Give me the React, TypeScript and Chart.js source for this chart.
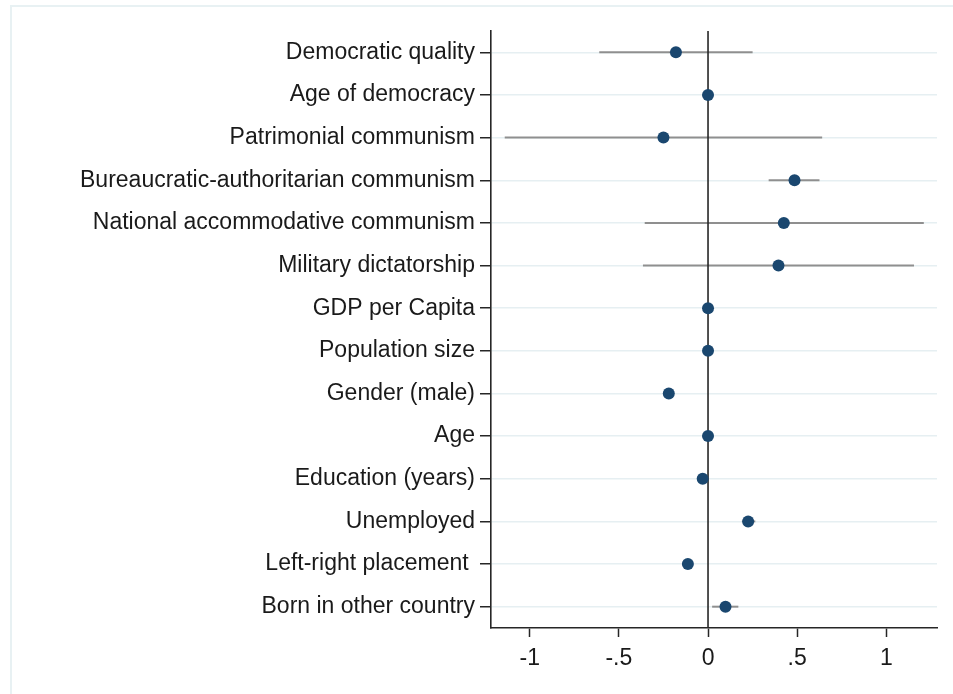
import React, { useEffect, useRef } from "react";
import { Chart, registerables } from "chart.js";

Chart.register(...registerables);

// Regressors, top to bottom
const labels: string[] = [
  "Democratic quality",
  "Age of democracy",
  "Patrimonial communism",
  "Bureaucratic-authoritarian communism",
  "National accommodative communism",
  "Military dictatorship",
  "GDP per Capita",
  "Population size",
  "Gender (male)",
  "Age",
  "Education (years)",
  "Unemployed",
  "Left-right placement ",
  "Born in other country",
];

// Point estimates
const coef: number[] = [
  -0.18, 0.0, -0.25, 0.485, 0.425, 0.395, 0.0, 0.0, -0.22, 0.0, -0.03, 0.225,
  -0.113, 0.098,
];

// Confidence interval bounds
const ciLow: number[] = [
  -0.61, -0.006, -1.14, 0.34, -0.355, -0.365, -0.004, -0.004, -0.235, -0.004,
  -0.045, 0.19, -0.128, 0.023,
];
const ciHigh: number[] = [
  0.25, 0.006, 0.64, 0.625, 1.21, 1.155, 0.004, 0.004, -0.205, 0.004, -0.015,
  0.265, -0.098, 0.17,
];

// X axis ticks
const xTicks: number[] = [-1, -0.5, 0, 0.5, 1];
const xTickLabels: string[] = ["-1", "-.5", "0", ".5", "1"];

const FONT = '"Liberation Sans", Arial, sans-serif';
const TEXT = "#1a1a1a";
const AXIS = "#262626";

// Confidence interval whiskers and the reference line at zero
const ciPlugin = {
  id: "ciLines",
  beforeDatasetsDraw(chart: any) {
    const { ctx, scales, chartArea } = chart;
    const xs = scales.x;
    const ys = scales.y;
    ctx.save();
    ctx.strokeStyle = "#8f8f8f";
    ctx.lineWidth = 2;
    for (let i = 0; i < labels.length; i++) {
      const y = ys.getPixelForValue(i);
      ctx.beginPath();
      ctx.moveTo(xs.getPixelForValue(ciLow[i]), y);
      ctx.lineTo(xs.getPixelForValue(ciHigh[i]), y);
      ctx.stroke();
    }
    const x0 = xs.getPixelForValue(0);
    ctx.strokeStyle = AXIS;
    ctx.lineWidth = 1.6;
    ctx.beginPath();
    ctx.moveTo(x0, chartArea.top);
    ctx.lineTo(x0, chartArea.bottom);
    ctx.stroke();
    ctx.restore();
  },
};

export default function App() {
  const ref = useRef<HTMLCanvasElement | null>(null);

  useEffect(() => {
    if (!ref.current) return;
    const chart = new Chart(ref.current, {
      type: "scatter",
      data: {
        datasets: [
          {
            data: coef.map((v, i) => ({ x: v, y: i })),
            pointRadius: 6,
            pointHoverRadius: 6,
            pointBackgroundColor: "#1a476f",
            pointBorderWidth: 0,
            borderWidth: 0,
          },
        ],
      },
      options: {
        animation: false,
        responsive: false,
        events: [],
        layout: { padding: { top: 31, right: 16, left: 0, bottom: 0 } },
        plugins: {
          legend: { display: false },
          tooltip: { enabled: false },
        },
        scales: {
          x: {
            type: "linear",
            min: -1.217,
            max: 1.284,
            afterBuildTicks: (s: any) => {
              s.ticks = xTicks.map((v) => ({ value: v }));
            },
            afterFit: (s: any) => {
              s.height = 66;
            },
            ticks: {
              autoSkip: false,
              maxRotation: 0,
              padding: 8,
              color: TEXT,
              font: { family: FONT, size: 23 },
              callback: (v: any) => {
                const k = xTicks.indexOf(Number(v));
                return k >= 0 ? xTickLabels[k] : null;
              },
            },
            grid: {
              drawOnChartArea: false,
              tickColor: AXIS,
              tickLength: 9,
              tickWidth: 1.5,
            },
            border: { display: true, color: AXIS, width: 1.6 },
          },
          y: {
            type: "linear",
            reverse: true,
            min: -0.5,
            max: labels.length - 0.5,
            afterBuildTicks: (s: any) => {
              s.ticks = labels.map((_, i) => ({ value: i }));
            },
            afterFit: (s: any) => {
              s.width = 491;
            },
            ticks: {
              autoSkip: false,
              padding: 5,
              color: TEXT,
              font: { family: FONT, size: 23 },
              callback: (v: any) => labels[Number(v)] ?? null,
            },
            grid: {
              color: "#e6eff2",
              lineWidth: 1.5,
              tickColor: AXIS,
              tickLength: 11,
              tickWidth: 1.5,
            },
            border: { display: true, color: AXIS, width: 1.6 },
          },
        },
      },
      plugins: [ciPlugin],
    });
    return () => chart.destroy();
  }, []);

  return (
    <div
      style={{
        position: "fixed",
        left: 0,
        top: 0,
        width: 953,
        height: 694,
        background: "#ffffff",
        overflow: "hidden",
      }}
    >
      <div
        style={{
          position: "absolute",
          left: 10,
          top: 5,
          width: 960,
          height: 700,
          borderTop: "2px solid #e8f1f3",
          borderLeft: "2px solid #e8f1f3",
        }}
      />
      <canvas
        ref={ref}
        width={953}
        height={694}
        style={{ position: "absolute", left: 0, top: 0 }}
      />
    </div>
  );
}
